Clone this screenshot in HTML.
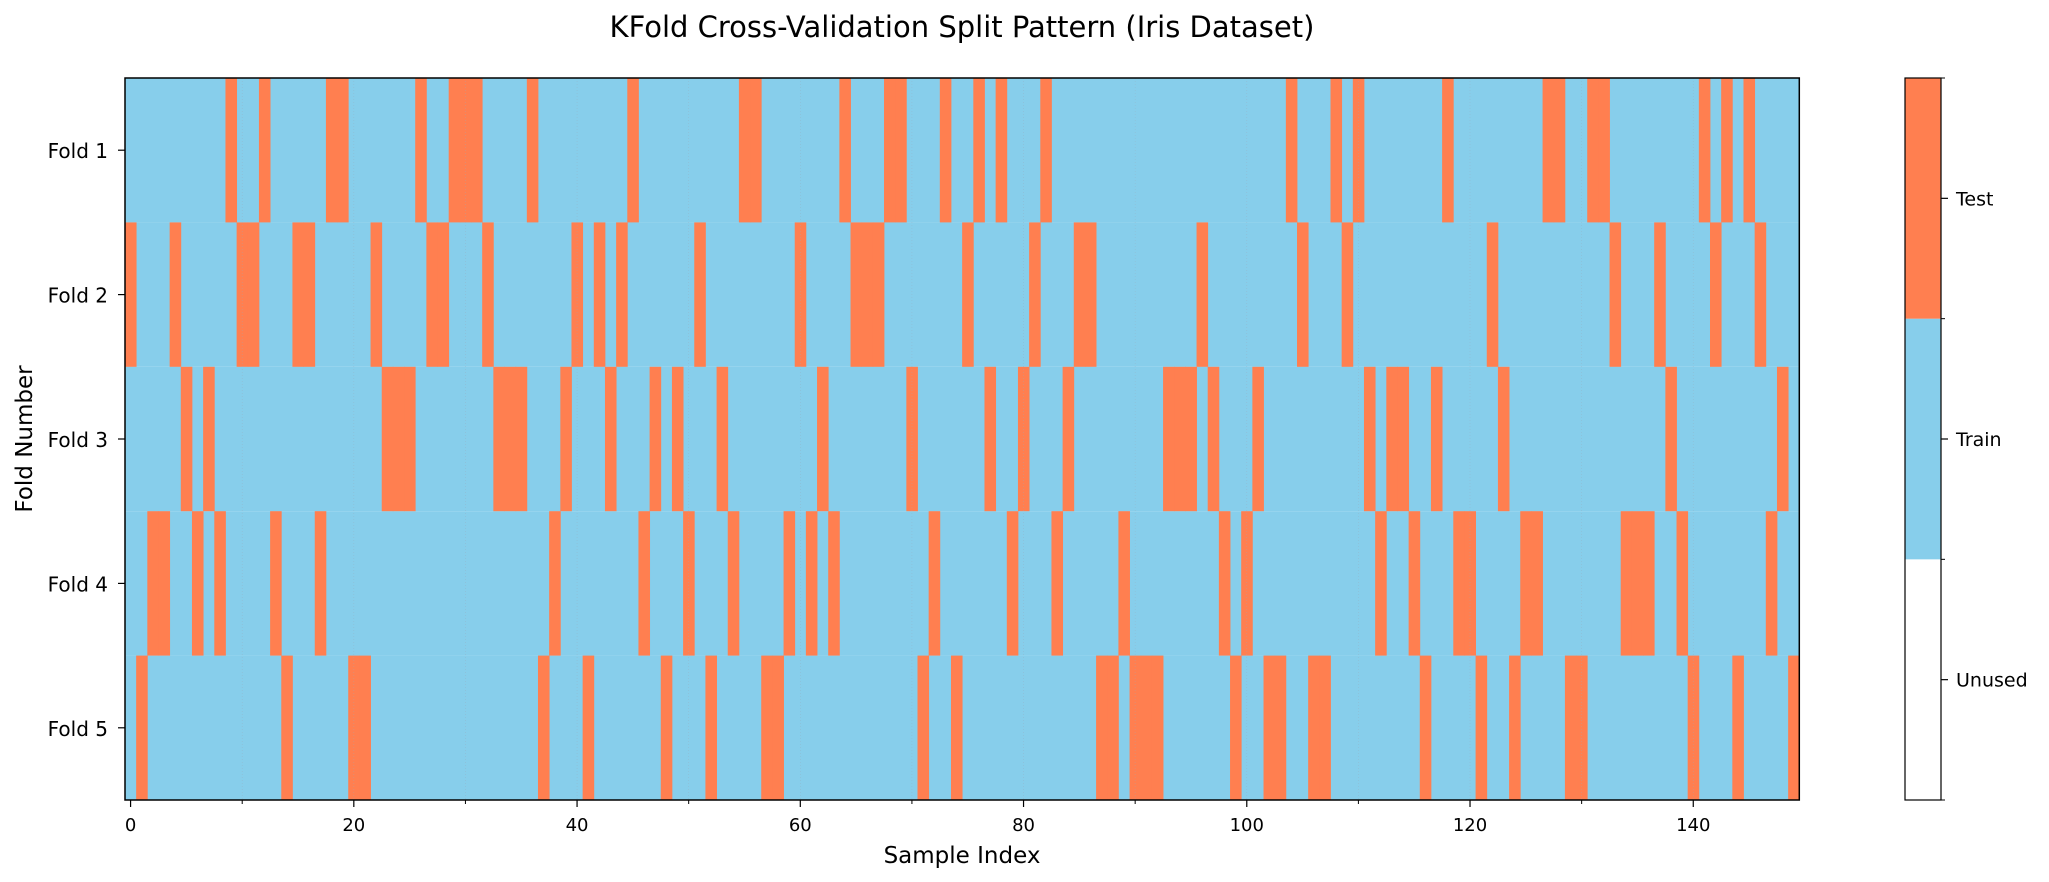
<!DOCTYPE html>
<html><head><meta charset="utf-8"><style>
html,body{margin:0;padding:0;background:#fff;}
svg{display:block;font-family:"DejaVu Sans","Liberation Sans",sans-serif;}
</style></head><body>
<svg id="chart" width="2049" height="882" viewBox="0 0 2049 882" xmlns="http://www.w3.org/2000/svg">
<text x="962" y="37" font-size="29" text-anchor="middle" fill="#000">KFold Cross-Validation Split Pattern (Iris Dataset)</text>
<g id="cells"></g>
<g id="grid"></g>
<rect x="125" y="78" width="1674.3" height="722" fill="none" stroke="#000" stroke-width="1.5"/>
<g id="xaxis"></g>
<g id="yaxis"></g>
<text x="962" y="863" font-size="23" text-anchor="middle">Sample Index</text>
<text x="0" y="0" font-size="23" text-anchor="middle" transform="translate(32,439) rotate(-90)">Fold Number</text>
<g id="cbar"></g>
</svg>
<script>
const foldLabels = ["Fold 1","Fold 2","Fold 3","Fold 4","Fold 5"];
const xTicks = [0,20,40,60,80,100,120,140];
const cbarLabels = ["Unused","Train","Test"];
const testFold = [
2,5,4,4,2,3,4,3,4,1,
2,2,1,4,5,2,2,4,1,1,
5,5,2,3,3,3,1,2,2,1,
1,1,2,3,3,3,1,5,4,3,
2,5,2,3,2,1,4,3,5,3,
4,2,5,3,4,1,1,5,5,4,
2,4,3,4,1,2,2,2,1,1,
3,5,4,1,5,2,1,3,1,4,
3,2,1,4,3,2,2,5,5,4,
5,5,5,3,3,3,2,3,4,5,
4,3,5,5,1,2,5,5,1,2,
1,3,4,3,3,4,5,3,1,4,
4,5,2,3,5,4,4,1,1,5,
5,1,1,2,4,4,4,2,3,4,
5,1,2,1,5,1,2,4,3,5];
const NS="http://www.w3.org/2000/svg";
const L=125,R=1799.3,T=78,B=800;
const nS=testFold.length, nF=foldLabels.length;
const cw=(R-L)/nS, rh=(B-T)/nF;
function xs(i){return L+(i+0.5)*cw;}
function ys(f){return T+(f+0.5)*rh;}
function mk(tag,attrs,parent){const e=document.createElementNS(NS,tag);for(const k in attrs)e.setAttribute(k,attrs[k]);parent.appendChild(e);return e;}
const cells=document.getElementById('cells');
for(let f=0;f<nF;f++){
  const bg=mk('rect',{x:L,y:T+f*rh,width:R-L,height:rh,fill:'#87ceeb'},cells);
  
  
}
for(let i=0;i<nS;i++){
  const f=testFold[i]-1;
  const r=mk('rect',{x:(xs(i)-cw/2).toFixed(2),y:(ys(f)-rh/2).toFixed(2),width:(cw+0.4).toFixed(2),height:rh.toFixed(2),fill:'#ff7f50'},cells);
  
  
}
const grid=document.getElementById('grid');
for(let v=10;v<nS;v+=10){
  const g=mk('line',{x1:xs(v),x2:xs(v),y1:T,y2:B,stroke:'#9ab',"stroke-width":0.6,"stroke-dasharray":"1,2",opacity:0.5},grid);
  
  
}
const xa=document.getElementById('xaxis');
for(let v=10;v<nS;v+=20){
  const m=mk('line',{x1:xs(v),x2:xs(v),y1:B,y2:B+4,stroke:'#000',"stroke-width":1},xa);
  
  
}
xTicks.forEach(v=>{
  const t=mk('line',{x1:xs(v),x2:xs(v),y1:B,y2:B+7,stroke:'#000',"stroke-width":1.2},xa);
  
  
  const tx=mk('text',{x:xs(v),y:B+31,"font-size":18,"text-anchor":"middle"},xa);
  tx.textContent=v;
  
  
});
const ya=document.getElementById('yaxis');
foldLabels.forEach((lab,f)=>{
  const t=mk('line',{x1:L-7,x2:L,y1:ys(f),y2:ys(f),stroke:'#000',"stroke-width":1.2},ya);
  
  
  const tx=mk('text',{x:L-17,y:ys(f)+8,"font-size":20,"text-anchor":"end"},ya);
  tx.textContent=lab;
  
  
});
const cb=document.getElementById('cbar');
const cL=1905,cW=36,cT=78,cB=800,segH=(cB-cT)/cbarLabels.length;
const cbColors=['#ffffff','#87ceeb','#ff7f50'];
cbarLabels.forEach((lab,k)=>{
  const y0=cB-(k+1)*segH;
  const r=mk('rect',{x:cL,y:y0,width:cW,height:segH,fill:cbColors[k]},cb);
  
  
  const t=mk('line',{x1:cL+cW,x2:cL+cW+7,y1:y0+segH/2,y2:y0+segH/2,stroke:'#000',"stroke-width":1.2},cb);
  
  
  const tx=mk('text',{x:cL+cW+15,y:y0+segH/2+7,"font-size":19},cb);
  tx.textContent=lab;
  
  
});
for(let k=0;k<=cbarLabels.length;k++){
  const y=cB-k*segH;
  const m=mk('line',{x1:cL+cW,x2:cL+cW+4,y1:y,y2:y,stroke:'#000',"stroke-width":1},cb);
  
  
}
const fr=mk('rect',{x:cL,y:cT,width:cW,height:cB-cT,fill:'none',stroke:'#000',"stroke-width":1.2},cb);


</script>
</body></html>
